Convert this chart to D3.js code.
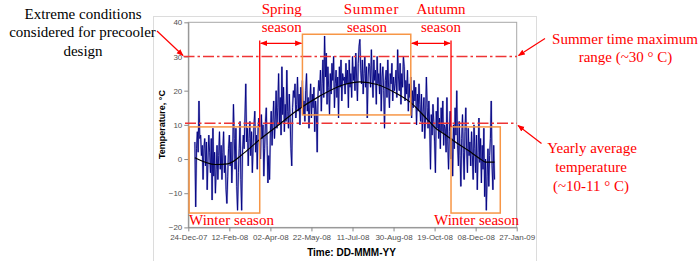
<!DOCTYPE html>
<html><head><meta charset="utf-8">
<script src="https://cdn.jsdelivr.net/npm/d3@7"></script>
<style>body{margin:0;background:#fff}svg{display:block}</style>
</head><body>
<svg id="c" width="699" height="261"></svg>
<script>
// ---- data (daily temperature, 2008, °C) ----
const tempJan = [5, -14, 3, 8, 2, 17, 6, 7, 1, 4, -6, 3, 6, -2, 5, -9, 0, 7, 2, -4, 6, -12, 9, -5, 2, -10, -3, 4, -6, 1, 8];
const tempFeb = [-3, 4, -6, 2, 8, -4, 1, -9, -13, -5, 3, 7, -2, 5, -7, 0, 16, 6, -3, 9, -8, -15, -4, 3, 11, -6, -15, 2, 7];
const tempMar = [3, 12, 22, 5, 9, -2, 6, 11, 1, 8, -4, 4, 10, 14, 2, 7, -3, 9, 12, 5, 0, 13, 6, 10, -5, 3, 11, 15, 4, -7, 1];
const tempApr = [-6, 8, 14, 4, 11, 17, 6, 12, 20, 9, 15, 25, 10, 18, 7, 27, 13, 21, 8, 16, 11, 26, 14, 9, 19, 12, 3, -2, 15, 20];
const tempMay = [18, 22, 12, 16, 24, 14, 19, 10, 21, 15, 23, 13, 17, 11, 20, 25, 14, 18, 9, 16, 22, 12, 19, 15, 21, 8, 17, 13, 2, 19, 23];
const tempJun = [20, 26, 14, 22, 29, 18, 36, 24, 31, 16, 27, 21, 13, 25, 19, 28, 23, 30, 15, 22, 26, 18, 24, 12, 27, 21, 29, 17, 25, 23];
const tempJul = [24, 19, 28, 22, 26, 15, 29, 21, 25, 18, 30, 23, 27, 20, 31, 24, 17, 28, 33, 35, 26, 22, 29, 19, 25, 30, 21, 27, 12, 24, 28];
const tempAug = [27, 21, 32, 24, 18, 29, 23, 26, 16, 30, 22, 25, 19, 28, 14, 24, 27, 20, 9, 23, 26, 18, 29, 21, 15, 25, 22, 28, 17, 24, 20];
const tempSep = [22, 26, 18, 32, 24, 20, 28, 16, 25, 21, 30, 27, 17, 23, 19, 26, 14, 22, 18, 24, 12, 20, 15, 23, 17, 21, 10, 19, 14, 22];
const tempOct = [16, 11, 19, 8, 14, 18, 6, 12, 24, 15, 9, 17, 10, -3, 13, 7, 16, 11, 5, -4, 14, 9, 18, 6, 12, 3, 15, 8, 17, 4, 10];
const tempNov = [9, 2, 18, 5, -3, 8, 14, 0, 6, -5, 10, 3, 15, 7, 20, 4, -2, 11, 1, -8, 6, 13, 2, -6, 8, 15, 3, -4, 9, 1];
const tempDec = [5, -2, 8, 1, -6, 10, 3, -4, 7, -9, 2, 12, -1, 6, -7, 4, -3, 9, -11, 0, -15, -5, 3, -8, 1, 6, 17, -2, -9, 4, -6];

// trend line (read points)
const trendDates  = ["2008-01-01","2008-01-26","2008-02-10","2008-03-01","2008-03-20","2008-04-10","2008-05-01","2008-06-01","2008-07-01","2008-07-20","2008-08-10","2008-09-01","2008-09-20","2008-10-10","2008-10-20","2008-11-01","2008-11-15","2008-12-01","2008-12-15","2008-12-20","2008-12-31"];
const trendValues = [0.4, -1.6, -1.4, 1.8, 5.7, 9.6, 13.6, 18.4, 21.8, 22.6, 21.8, 19.4, 16.5, 11.6, 9.1, 7.1, 4.7, 2.2, -0.2, -0.9, -0.9];

const xTickLabels = ["24-Dec-07","12-Feb-08","02-Apr-08","22-May-08","11-Jul-08","30-Aug-08","19-Oct-08","08-Dec-08","27-Jan-09"];
const yTicks = [-20, -10, 0, 10, 20, 30, 40];

// annotation values
const summerMaxLine = 30;
const yearlyAvgLine = 10.5;
const seasonDates = {winterStart:"2007-12-25", springStart:"2008-03-20", summerStart:"2008-05-11", autumnStart:"2008-09-20", winterStart2:"2008-11-08", winterEnd2:"2009-01-07"};
const summerBox = [12.9, 36.5];
const winterBox = [-15.8, 9.4];

// ---- chart ----
const svg = d3.select("#c");
const parseISO = d3.timeParse("%Y-%m-%d");
const parseTick = d3.timeParse("%d-%b-%y");
const x = d3.scaleTime().domain([parseTick(xTickLabels[0]), parseTick(xTickLabels[xTickLabels.length-1])]).range([188.3, 516.7]);
const y = d3.scaleLinear().domain([-20, 40]).range([227.4, 22.3]);

const months = [tempJan,tempFeb,tempMar,tempApr,tempMay,tempJun,tempJul,tempAug,tempSep,tempOct,tempNov,tempDec];
const daily = [];
months.forEach((arr, m) => arr.forEach((v, i) => daily.push({date: new Date(2008, m, i+1), v})));

const red = "#ff0000", dashRed = "#ee3535", orange = "#f79646";
const serif = "'Liberation Serif','Times New Roman',serif";
const sans = "'Liberation Sans',Arial,sans-serif";

const defs = svg.append("defs");
function marker(id, orient){
  defs.append("marker").attr("id", id).attr("viewBox","0 0 10 10").attr("refX",9).attr("refY",5)
    .attr("markerWidth",7).attr("markerHeight",7).attr("markerUnits","userSpaceOnUse").attr("orient",orient)
    .append("path").attr("d","M0,1 L10,5 L0,9 Z").attr("fill", red);
}
marker("ah","auto"); marker("ahs","auto-start-reverse");

// outer chart border
svg.append("rect").attr("x",153.5).attr("y",16.5).attr("width",383).attr("height",260)
  .attr("fill","none").attr("stroke","#dcdcdc");
// plot frame
svg.append("rect").attr("x",x.range()[0]).attr("y",y.range()[1]).attr("width",x.range()[1]-x.range()[0]).attr("height",y.range()[0]-y.range()[1])
  .attr("fill","none").attr("stroke","#a8a8a8");

// axes
const xAxis = svg.append("g").attr("transform",`translate(0,${y.range()[0]})`)
  .call(d3.axisBottom(x).tickValues(xTickLabels.map(parseTick)).tickFormat(d3.timeFormat("%d-%b-%y")).tickSize(4).tickSizeOuter(0).tickPadding(3));
const yAxis = svg.append("g").attr("transform",`translate(${x.range()[0]},0)`)
  .call(d3.axisLeft(y).tickValues(yTicks).tickSize(4).tickSizeOuter(0).tickPadding(2));
[xAxis,yAxis].forEach(g=>{
  g.selectAll("path,line").attr("stroke","#8a8a8a");
  g.selectAll("text").attr("fill","#505050").style("font-family",sans).style("font-size","8px");
});

// data line
const line = d3.line().x(d=>x(d.date)).y(d=>y(d.v));
svg.append("path").datum(daily).attr("d",line).attr("fill","none").attr("stroke","#6f6fc4").attr("stroke-width",2).attr("stroke-opacity",0.55);
svg.append("path").datum(daily).attr("d",line).attr("fill","none").attr("stroke","#000080").attr("stroke-width",0.9);

// trend
const trend = trendDates.map((d,i)=>({date:parseISO(d), v:trendValues[i]}));
svg.append("path").datum(trend).attr("d", d3.line().x(d=>x(d.date)).y(d=>y(d.v)).curve(d3.curveMonotoneX))
  .attr("fill","none").attr("stroke","#000").attr("stroke-width",1.2);

// dash-dot reference lines
[[summerMaxLine,183.5],[yearlyAvgLine,185]].forEach(([v,x0])=>{
  svg.append("line").attr("x1",x0).attr("x2",517).attr("y1",y(v)).attr("y2",y(v))
    .attr("stroke",dashRed).attr("stroke-width",1.5).attr("stroke-dasharray","11,3,2.5,3");
});

// season boxes
const sd = k => x(parseISO(seasonDates[k]));
function box(x0,x1,v0,v1){
  svg.append("rect").attr("x",x0).attr("y",y(v1)).attr("width",x1-x0).attr("height",y(v0)-y(v1))
    .attr("fill","none").attr("stroke",orange).attr("stroke-width",1.5);
}
box(sd("winterStart"), sd("springStart"), winterBox[0], winterBox[1]);
box(sd("summerStart"), sd("autumnStart"), summerBox[0], summerBox[1]);
box(sd("winterStart2"), sd("winterEnd2"), winterBox[0], winterBox[1]);

// red season boundary lines and arrows
const arrowY = 43.3;
[sd("springStart"), sd("winterStart2")].forEach(px=>{
  svg.append("line").attr("x1",px).attr("x2",px).attr("y1",40.5).attr("y2",y(winterBox[1]))
    .attr("stroke",red).attr("stroke-width",1.3);
});
[[sd("springStart"), sd("summerStart")],[sd("autumnStart"), sd("winterStart2")]].forEach(([a,b])=>{
  svg.append("line").attr("x1",a+1).attr("x2",b-1).attr("y1",arrowY).attr("y2",arrowY)
    .attr("stroke",red).attr("stroke-width",1.2).attr("marker-end","url(#ah)").attr("marker-start","url(#ahs)");
});

// callout arrows
[[157,31,183,55.5],[545,38.5,518.5,55.5],[541.5,143.5,518,125.5]].forEach(([x1,y1,x2,y2])=>{
  svg.append("line").attr("x1",x1).attr("y1",y1).attr("x2",x2).attr("y2",y2)
    .attr("stroke",red).attr("stroke-width",1.2).attr("marker-end","url(#ah)");
});

// texts
function txt(s, px, py, color, opts={}){
  const t = svg.append("text").attr("x",px).attr("y",py).attr("text-anchor",opts.anchor||"middle")
    .attr("fill",color).style("font-family",opts.font||serif).style("font-size",(opts.size||15)+"px")
    .text(s);
  if(opts.weight) t.style("font-weight",opts.weight);
  if(opts.ls) t.style("letter-spacing",opts.ls+"px");
  if(opts.rotate) t.attr("transform",`rotate(-90,${px},${py})`);
  return t;
}
txt("Extreme conditions", 83, 18.5, "#000");
txt("considered  for precooler", 82.5, 37.3, "#000");
txt("design", 83, 55.5, "#000");

txt("Spring", 281.7, 13.5, red);
txt("season", 281.7, 32, red);
txt("Summer", 371.5, 13.5, red, {ls:0.8});
txt("season", 367, 32, red);
txt("Autumn", 441, 13.5, red);
txt("season", 441, 32, red);

txt("Winter season", 231.5, 224.5, red);
txt("Winter season", 476.5, 224.5, red);

txt("Summer time maximum", 625, 43.5, red);
txt("range (~30 °  C)", 625.5, 62, red);
txt("Yearly average", 592, 152.5, red);
txt("temperature", 591, 171.5, red);
txt("(~10-11 °  C)", 591, 190.5, red);

txt("Time: DD-MMM-YY", 351.5, 256, "#000", {font:sans, size:10, weight:"bold"});
txt("Temperature, °C", 165, 124.5, "#000", {font:sans, size:9, weight:"bold", rotate:true});
</script>
</body></html>
